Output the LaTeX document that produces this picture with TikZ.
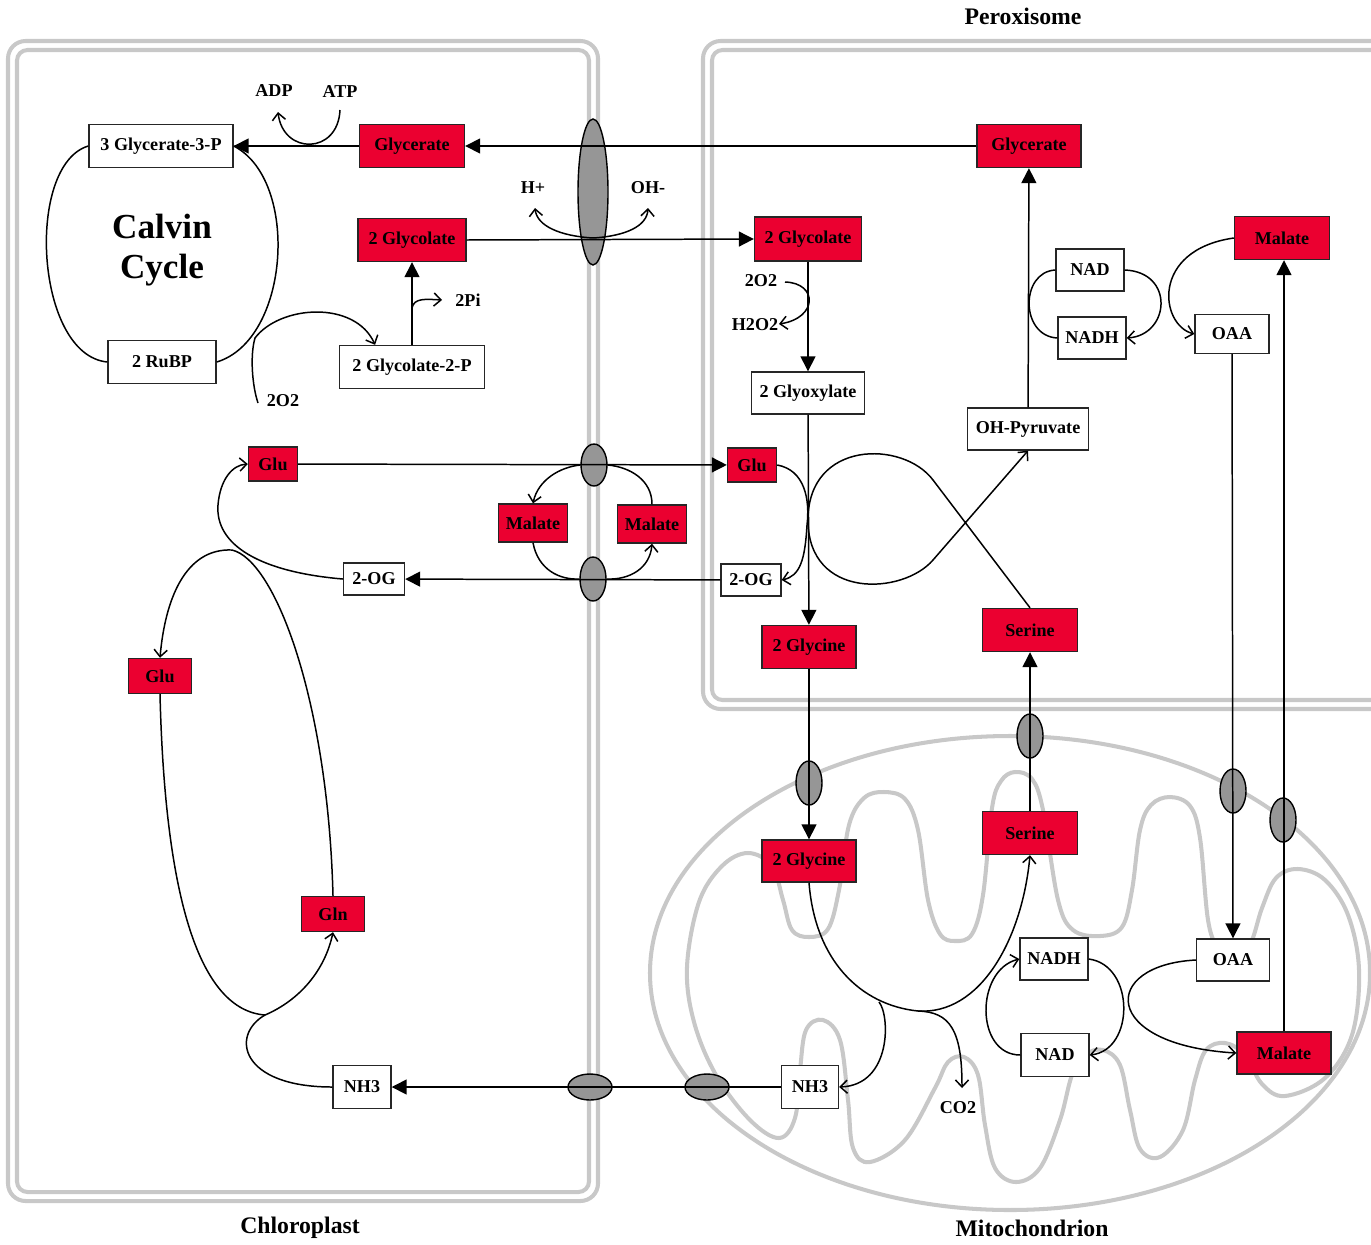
\documentclass[tikz,border=0pt]{standalone}
\usepackage{fontspec}
\setmainfont{Liberation Serif}
\usetikzlibrary{arrows.meta,shapes.geometric}
\definecolor{molred}{RGB}{235,0,48}
\definecolor{memgray}{RGB}{200,200,200}
\definecolor{poregray}{RGB}{150,150,150}

\begin{document}
\begin{tikzpicture}[x=0.02cm,y=-0.02cm,
    met/.style={draw=black!85,line width=0.8pt,fill=white,inner sep=0pt,minimum height=0.86cm},
    redmet/.style={met,fill=molred},
    pore/.style={ellipse,draw=black,line width=0.8pt,fill=poregray,inner sep=0pt,minimum width=0.52cm,minimum height=0.88cm},
    membrane/.style={draw=memgray,line width=2.3pt},
    conn/.style={line width=0.85pt},
    tri/.style={conn,-{Triangle[length=8.5pt,width=8.5pt]}},
    barb/.style={conn,-{Straight Barb[length=4pt,width=7.5pt]}},
    lbl/.style={inner sep=0pt},
    title/.style={inner sep=0pt,font=\fontsize{13.5}{16}\selectfont\bfseries}]
    \tikzstyle{every node}+=[font=\fontsize{10.3}{12}\selectfont\bfseries]
    \useasboundingbox (0,0) rectangle (1371,1244);
    % membranes
    \draw [membrane,rounded corners=10pt] (8,41) rectangle (598,1201);
    \draw [membrane,rounded corners=6pt] (17,50) rectangle (589,1192);
    \draw [membrane,rounded corners=10pt] (703,41) rectangle (1400,709);
    \draw [membrane,rounded corners=6pt] (712,50) rectangle (1400,700);
    \draw [membrane] (1010,973) ellipse (360 and 237);
    \draw [membrane] plot [smooth cycle,tension=0.6] coordinates {
        (687,967) (699,902) (722,866) (748,853) (772,866) (783,900) (792,930)
        (809,937) (828,929) (839,890) (849,825) (864,798) (884,792) (905,799)
        (918,830) (928,900) (940,934) (955,941) (972,934) (983,895) (992,808)
        (1001,781) (1015,772) (1032,779) (1043,810) (1058,900) (1073,930)
        (1100,936) (1122,927) (1132,890) (1140,830) (1151,805) (1170,797)
        (1190,806) (1200,838) (1208,920) (1218,947) (1233,953) (1250,944)
        (1262,908) (1276,878) (1298,869) (1325,880) (1348,915) (1359,970)
        (1352,1035) (1325,1078) (1285,1096) (1262,1084) (1245,1055)
        (1225,1043) (1206,1050) (1195,1080) (1183,1130) (1160,1157)
        (1140,1149) (1130,1110) (1120,1065) (1103,1050) (1085,1055)
        (1072,1075) (1060,1120) (1040,1168) (1016,1182) (995,1168)
        (985,1125) (978,1075) (964,1057) (948,1062) (935,1088) (905,1140)
        (870,1162) (853,1148) (848,1100) (840,1040) (823,1020) (806,1030)
        (800,1070) (795,1118) (779,1138) (750,1120) (716,1075) (694,1022)};
    % transporters
    \node [pore,minimum width=0.6cm,minimum height=2.92cm] (tBig) at (593,192) {};
    \node [pore,minimum height=0.84cm] (tGlu) at (594,465) {};
    \node [pore] (tOG) at (593,579) {};
    \node [pore,minimum width=0.88cm,minimum height=0.52cm] (tNHa) at (590,1087) {};
    \node [pore,minimum width=0.88cm,minimum height=0.52cm] (tNHb) at (707,1087) {};
    \node [pore] (tGly) at (809,783) {};
    \node [pore] (tSer) at (1030,736) {};
    \node [pore] (tOAA) at (1233,791) {};
    \node [pore] (tMal) at (1283,820) {};
    % chloroplast
    \node [met,minimum width=2.88cm] (cPGA) at (161,146) {3 Glycerate-3-P};
    \node [redmet,minimum width=2.1cm] (cGlycerate) at (412,146) {Glycerate};
    \node [redmet,minimum width=2.16cm] (cGlycolate) at (412,240) {2 Glycolate};
    \node [met,minimum width=2.9cm] (cGlycolateP) at (412,367) {2 Glycolate-2-P};
    \node [met,minimum width=2.16cm] (cRuBP) at (162,362) {2 RuBP};
    \node [inner sep=0pt,align=center,font=\fontsize{20}{23}\selectfont\bfseries] (calvin) at (162,250) {Calvin\\Cycle};
    \node [lbl] (adp) at (274,91) {ADP};
    \node [lbl] (atp) at (340,92) {ATP};
    \node [lbl] (oxyA) at (283,401) {2O2};
    \node [lbl] (pi) at (468,300) {2Pi};
    \node [lbl] (hplus) at (533,188) {H+};
    \node [lbl] (ohminus) at (648,188) {OH-};
    \node [redmet,minimum width=0.98cm,minimum height=0.68cm] (cGluA) at (273,464) {Glu};
    \node [met,minimum width=1.22cm,minimum height=0.64cm] (cOG) at (374,579) {2-OG};
    \node [redmet,minimum width=1.38cm,minimum height=0.76cm] (malC) at (533,523) {Malate};
    \node [redmet,minimum width=1.38cm,minimum height=0.76cm] (malP) at (652,524) {Malate};
    \node [redmet,minimum width=1.26cm,minimum height=0.7cm] (cGluB) at (160,676) {Glu};
    \node [redmet,minimum width=1.26cm,minimum height=0.7cm] (cGln) at (333,914) {Gln};
    \node [met,minimum width=1.16cm] (cNH3) at (362,1087) {NH3};
    % peroxisome
    \node [redmet,minimum width=2.08cm] (pGlycerate) at (1029,146) {Glycerate};
    \node [redmet,minimum width=2.14cm,minimum height=0.88cm] (pGlycolate) at (808,239) {2 Glycolate};
    \node [met,minimum width=2.26cm,minimum height=0.84cm] (pGlyoxylate) at (808,393) {2 Glyoxylate};
    \node [lbl] (oxyB) at (761,281) {2O2};
    \node [lbl] (hperox) at (755,325) {H2O2};
    \node [met,minimum width=1.36cm,minimum height=0.84cm] (pNAD) at (1090,270) {NAD};
    \node [met,minimum width=1.36cm,minimum height=0.84cm] (pNADH) at (1092,338) {NADH};
    \node [redmet,minimum width=1.9cm] (pMalate) at (1282,238) {Malate};
    \node [met,minimum width=1.48cm,minimum height=0.78cm] (pOAA) at (1232,334) {OAA};
    \node [met,minimum width=2.42cm,minimum height=0.84cm] (pOHPyr) at (1028,429) {OH-Pyruvate};
    \node [redmet,minimum width=0.98cm,minimum height=0.68cm] (pGlu) at (752,465) {Glu};
    \node [met,minimum width=1.2cm,minimum height=0.64cm] (pOG) at (751,580) {2-OG};
    \node [redmet,minimum width=1.88cm] (pGlycine) at (809,647) {2 Glycine};
    \node [redmet,minimum width=1.9cm] (pSerine) at (1030,630) {Serine};
    % mitochondrion
    \node [redmet,minimum width=1.88cm,minimum height=0.84cm] (mGlycine) at (809,861) {2 Glycine};
    \node [redmet,minimum width=1.9cm] (mSerine) at (1030,833) {Serine};
    \node [met,minimum width=1.36cm,minimum height=0.84cm] (mNADH) at (1054,959) {NADH};
    \node [met,minimum width=1.36cm] (mNAD) at (1055,1055) {NAD};
    \node [met,minimum width=1.46cm,minimum height=0.84cm] (mOAA) at (1233,960) {OAA};
    \node [redmet,minimum width=1.88cm,minimum height=0.84cm] (mMalate) at (1284,1053) {Malate};
    \node [met,minimum width=1.14cm] (mNH3) at (810,1087) {NH3};
    \node [lbl] (co2) at (958,1108) {CO2};
    \node [title] at (1023,16) {Peroxisome};
    \node [title] at (300,1228) {Chloroplast};
    \node [title] at (1032,1228) {Mitochondrion};
    % photorespiration
    \draw [tri] (pGlycerate) -- (cGlycerate);
    \draw [tri] (cGlycerate) -- (cPGA);
    \draw [barb] ([shift={(0,18)}]atp.center) .. controls (338,155) and (283,155) .. ([shift={(4,21)}]adp.center);
    \draw [conn] (cPGA.west) .. controls (25,165) and (35,355) .. (cRuBP.west);
    \draw [conn] (cRuBP.east) .. controls (290,340) and (300,180) .. (cPGA.east);
    \draw [barb] ([shift={(-25,2)}]oxyA.center) .. controls (252,385) and (250,355) .. (255,338)
        .. controls (280,305) and (355,300) .. (cGlycolateP.149);
    \coordinate (piBranch) at (412,308);
    \draw [tri] (cGlycolateP) -- (cGlycolate);
    \draw [barb] (piBranch) .. controls (414,298) and (425,299) .. ([shift={(-26,0)}]pi.center);
    \draw [tri] (cGlycolate.east) -- (pGlycolate.west);
    \coordinate (hx) at (593,238);
    \draw [barb] (hx) .. controls (560,236) and (537,226) .. ([shift={(2,20)}]hplus.center);
    \draw [barb] (hx) .. controls (626,236) and (647,226) .. ([shift={(0,20)}]ohminus.center);
    \draw [tri] (pGlycolate) -- (pGlyoxylate);
    \draw [barb] ([shift={(24,1)}]oxyB.center) .. controls (818,283) and (818,318) .. ([shift={(24,-1)}]hperox.center);
    \draw [tri] (pGlyoxylate) -- (pGlycine);
    \draw [barb] (pGlu.east) .. controls (805,470) and (810,500) .. (807,525)
        .. controls (805,560) and (800,576) .. (pOG.east);
    \draw [barb] (pSerine.north) -- (933,480) .. controls (903,440) and (808,440) .. (808,520)
        .. controls (808,600) and (903,595) .. (933,560) -- (pOHPyr.south);
    \draw [tri] (pOHPyr) -- (pGlycerate);
    \draw [conn] (pNAD.west) .. controls (1020,272) and (1020,336) .. (pNADH.west);
    \draw [barb] (pNAD.east) .. controls (1175,272) and (1170,335) .. (pNADH.east);
    \draw [barb] (pMalate.west) .. controls (1150,250) and (1160,325) .. (pOAA.west);
    \draw [tri] (pOAA) -- (mOAA);
    \draw [tri] (mMalate.north) -- (mMalate.north |- pMalate.south);
    \draw [tri] (pGlycine) -- (mGlycine);
    \draw [tri] (mSerine) -- (pSerine);
    % glycine decarboxylation
    \coordinate (nhBranch) at (879,1002);
    \coordinate (coBranch) at (918,1011);
    \draw [barb] (mGlycine.south) .. controls (815,960) and (860,1005) .. (coBranch)
        .. controls (980,1015) and (1022,940) .. (mSerine.south);
    \draw [barb] (nhBranch) .. controls (890,1015) and (892,1085) .. (mNH3.east);
    \draw [barb] (coBranch) .. controls (950,1012) and (962,1030) .. ([shift={(4,-20)}]co2.center);
    \draw [barb] (mNAD.west) .. controls (975,1055) and (975,970) .. (mNADH.west);
    \draw [barb] (mNADH.east) .. controls (1135,965) and (1135,1050) .. (mNAD.east);
    \draw [barb] (mOAA.west) .. controls (1100,965) and (1100,1045) .. (mMalate.west);
    % nitrogen recycling
    \draw [tri] (cGluA) -- (pGlu);
    \draw [tri] (pOG) -- (cOG);
    \draw [barb] (tGlu.west) .. controls (560,467) and (538,480) .. (malC.north);
    \draw [conn] (tGlu.east) .. controls (630,467) and (652,480) .. (malP.north);
    \draw [conn] (malC.south) .. controls (538,570) and (560,580) .. (tOG.west);
    \draw [barb] (tOG.east) .. controls (630,580) and (650,568) .. (malP.south);
    \draw [barb] (cOG.west) .. controls (260,572) and (215,545) .. (218,505)
        .. controls (220,480) and (232,465) .. (cGluA.west);
    \draw [barb] (cGln.north) .. controls (328,700) and (275,560) .. (232,550)
        .. controls (185,548) and (165,600) .. (cGluB.north);
    \coordinate (gsJoin) at (265,1015);
    \draw [barb] (cGluB.south) .. controls (165,900) and (200,1010) .. (gsJoin)
        .. controls (300,1000) and (325,970) .. (cGln.south);
    \draw [conn] (cNH3.west) .. controls (240,1087) and (230,1035) .. (gsJoin);
    \draw [tri] (mNH3) -- (cNH3);
\end{tikzpicture}
\end{document}
